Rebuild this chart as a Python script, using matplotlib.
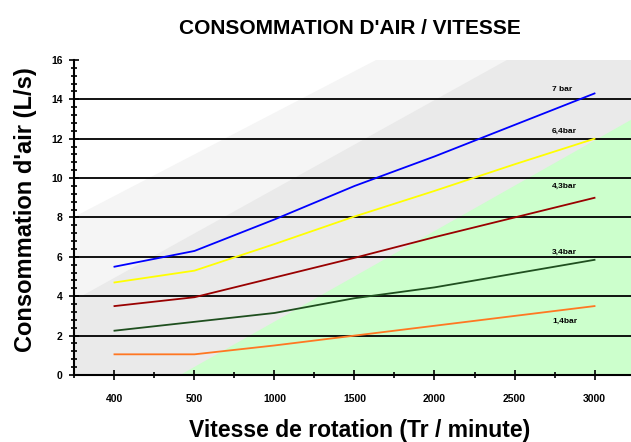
import matplotlib
matplotlib.use("Agg")
import matplotlib.pyplot as plt
from matplotlib.patches import Polygon
from matplotlib.ticker import MultipleLocator

# Rotation speeds (categories) and air consumption per pressure
speeds = ["400", "500", "1000", "1500", "2000", "2500", "3000"]
air_7bar = [5.5, 6.3, 7.9, 9.6, 11.1, 12.7, 14.3]
air_64bar = [4.7, 5.3, 6.65, 8.05, 9.35, 10.7, 12.0]
air_43bar = [3.5, 3.95, 4.95, 5.95, 7.0, 8.0, 9.0]
air_34bar = [2.25, 2.7, 3.15, 3.9, 4.45, 5.15, 5.85]
air_14bar = [1.05, 1.05, 1.5, 2.0, 2.5, 3.0, 3.5]

series = [
    (air_7bar, "#0000ff", "7 bar", 14.5),
    (air_64bar, "#ffff00", "6,4bar", 12.4),
    (air_43bar, "#990000", "4,3bar", 9.6),
    (air_34bar, "#1f4f1f", "3,4bar", 6.25),
    (air_14bar, "#ff7722", "1,4bar", 2.75),
]

plt.rcParams["font.family"] = ["Liberation Sans", "DejaVu Sans"]

fig = plt.figure(figsize=(6.31, 4.42), dpi=100)
ax = fig.add_axes([0.118, 0.1516, 0.882, 0.7127])

x = list(range(len(speeds)))

# shaded background bands (light grey -> grey -> green)
ax.add_patch(Polygon([(0, 0.5025), (0.542, 1), (1, 1), (1, 0), (0, 0)],
                     closed=True, transform=ax.transAxes, facecolor="#f5f5f5",
                     edgecolor="none", zorder=0))
ax.add_patch(Polygon([(0, 0.238), (0.777, 1), (1, 1), (1, 0), (0, 0)],
                     closed=True, transform=ax.transAxes, facecolor="#eaeaea",
                     edgecolor="none", zorder=0))
ax.add_patch(Polygon([(0.19, 0), (1, 0.81), (1, 0)],
                     closed=True, transform=ax.transAxes, facecolor="#ccffcc",
                     edgecolor="none", zorder=0))

for yv in range(2, 16, 2):
    ax.axhline(yv, color="black", lw=1.3, zorder=1)

for vals, col, lab, ly in series:
    ax.plot(x, vals, color=col, lw=1.3, zorder=2)
    ax.text(5.47, ly, lab, fontsize=6, fontweight="bold", ha="left",
            va="center", color="black", zorder=3)

ax.set_xlim(-0.5, 6.456)
ax.set_ylim(0, 16)
ax.set_xticks(x)
ax.set_xticklabels(speeds)
ax.xaxis.set_minor_locator(MultipleLocator(0.5))
ax.yaxis.set_major_locator(MultipleLocator(2))
ax.yaxis.set_minor_locator(MultipleLocator(0.4))

for side in ("top", "right"):
    ax.spines[side].set_visible(False)
for side in ("left", "bottom"):
    ax.spines[side].set_linewidth(1.5)
    ax.spines[side].set_zorder(4)

ax.tick_params(axis="both", which="major", direction="inout", length=7,
               width=1.2, labelsize=7.5, pad=5)
ax.tick_params(axis="both", which="minor", direction="inout", length=5,
               width=1.2)
ax.tick_params(axis="x", which="major", pad=10)
for t in ax.get_xticklabels() + ax.get_yticklabels():
    t.set_fontweight("bold")

fig.text(0.555, 0.936, "CONSOMMATION D'AIR / VITESSE", ha="center",
         va="center", fontsize=15, fontweight="bold")
fig.text(0.57, 0.027, "Vitesse de rotation (Tr / minute)", ha="center",
         va="center", fontsize=16.5, fontweight="bold")
fig.text(0.04, 0.525, "Consommation d'air (L/s)", ha="center", va="center",
         rotation=90, fontsize=17, fontweight="bold")

fig.savefig("out.png", dpi=100)
